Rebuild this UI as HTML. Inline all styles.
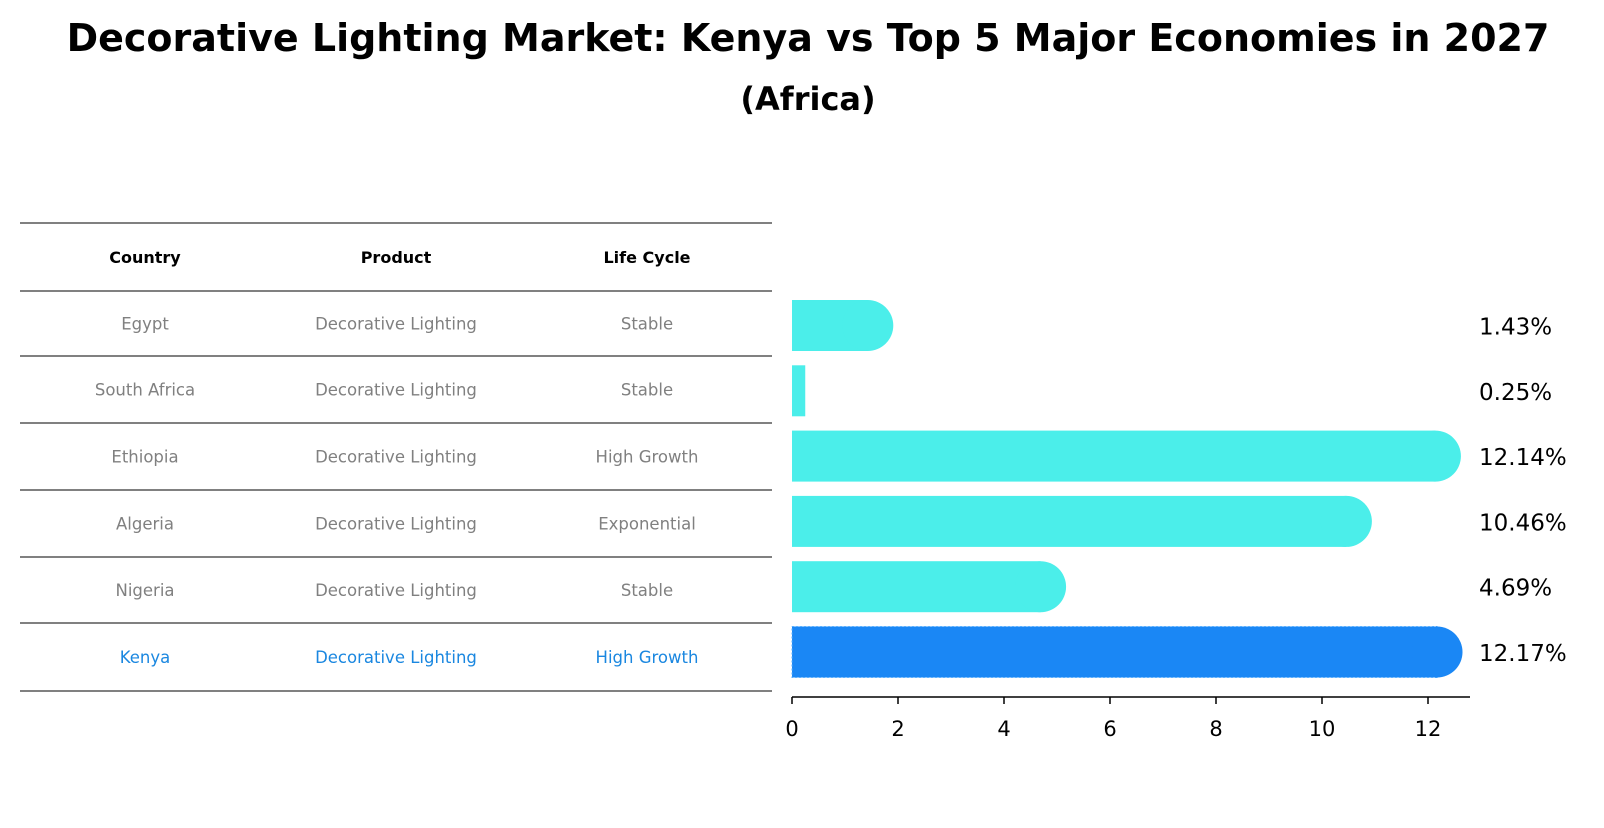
<!DOCTYPE html>
<html><head><meta charset="utf-8"><style>
body{margin:0;background:#fff;font-family:"Liberation Sans","DejaVu Sans",sans-serif}
</style></head><body>
<svg width="1604" height="823" xmlns="http://www.w3.org/2000/svg">
<text x="808" y="51" text-anchor="middle" font-size="38" font-weight="bold" font-family="DejaVu Sans,Liberation Sans,sans-serif">Decorative Lighting Market: Kenya vs Top 5 Major Economies in 2027</text>
<text x="808" y="110" text-anchor="middle" font-size="32" font-weight="bold" font-family="DejaVu Sans,Liberation Sans,sans-serif">(Africa)</text>
<g id="table"></g>
<g id="bars"></g>
</svg>
<script>
const countries=["Egypt","South Africa","Ethiopia","Algeria","Nigeria","Kenya"];
const products=["Decorative Lighting","Decorative Lighting","Decorative Lighting","Decorative Lighting","Decorative Lighting","Decorative Lighting"];
const lifeCycles=["Stable","Stable","High Growth","Exponential","Stable","High Growth"];
const values=[1.43,0.25,12.14,10.46,4.69,12.17];
const tickValues=[0,2,4,6,8,10,12];
const NS="http://www.w3.org/2000/svg";
function mk(tag,attrs,parent){const e=document.createElementNS(NS,tag);for(const k in attrs)e.setAttribute(k,attrs[k]);parent.appendChild(e);return e;}
const tbl=document.getElementById('table');
const lineYs=[223,291,356,423,490,557,623,691];
const colX=[145,396,647];
lineYs.forEach(y=>{const l=mk('line',{x1:20,x2:772,y1:y,y2:y,stroke:'#000','stroke-width':1},tbl);

});
["Country","Product","Life Cycle"].forEach((h,i)=>{const t=mk('text',{x:colX[i],y:(lineYs[0]+lineYs[1])/2+6,'text-anchor':'middle','font-size':16,'font-weight':'bold','font-family':'DejaVu Sans,Liberation Sans,sans-serif'},tbl);t.textContent=h;

});
countries.forEach((c,r)=>{const y=(lineYs[r+1]+lineYs[r+2])/2+6;const col=r===5?'#1a87e0':'#808080';
[c,products[r],lifeCycles[r]].forEach((v,i)=>{const t=mk('text',{x:colX[i],y:y,'text-anchor':'middle','font-size':16.5,fill:col,'font-family':'DejaVu Sans,Liberation Sans,sans-serif'},tbl);t.textContent=v;

});});
const g=document.getElementById('bars');
const x0=792,pxPer=53;const X=v=>x0+v*pxPer;
const rowY=r=>325.5+r*65.3;const bh=51;
values.forEach((v,r)=>{const cy=rowY(r);const kenya=r===5;const fill=kenya?'#1a87f5':'#4beeea';
const w=X(v)-x0;
const rc=mk('rect',{x:x0,y:cy-bh/2,width:w,height:bh,fill:fill},g);
if(kenya){rc.setAttribute('stroke','#5ab0ff');rc.setAttribute('stroke-dasharray','2 2');rc.setAttribute('stroke-width','1');}


if(v>1){const c=mk('circle',{cx:X(v),cy:cy,r:bh/2,fill:fill},g);

}
const t=mk('text',{x:1479,y:cy+9,'font-size':23,'font-family':'DejaVu Sans,Liberation Sans,sans-serif'},g);t.textContent=v.toFixed(2)+'%';

});
const ax=mk('line',{x1:x0,x2:1470,y1:697,y2:697,stroke:'#000','stroke-width':1.5},g);


tickValues.forEach(v=>{const l=mk('line',{x1:X(v),x2:X(v),y1:697,y2:704,stroke:'#000','stroke-width':1.5},g);


const t=mk('text',{x:X(v),y:736,'text-anchor':'middle','font-size':21,'font-family':'DejaVu Sans,Liberation Sans,sans-serif'},g);t.textContent=v;

});
</script>
</body></html>
